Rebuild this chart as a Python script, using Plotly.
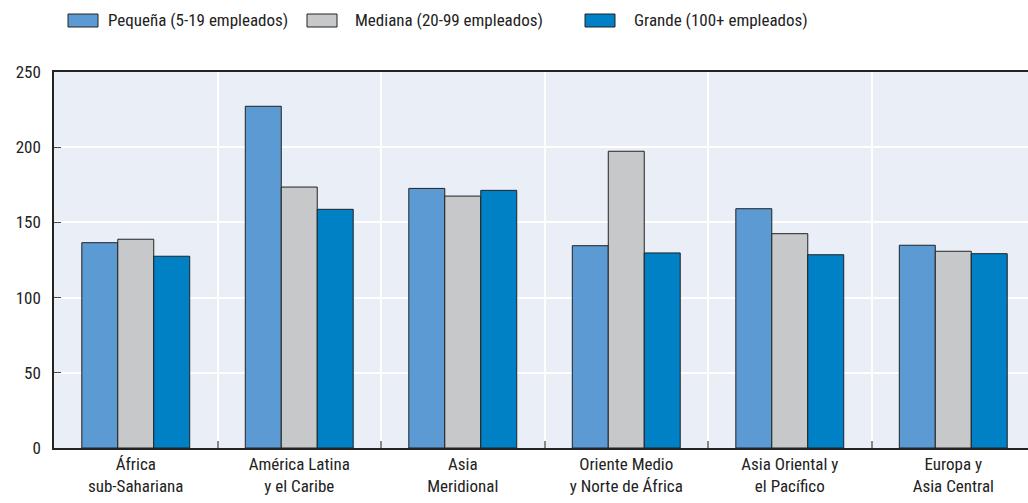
import plotly.graph_objects as go

categories = ["África<br>sub-Sahariana", "América Latina<br>y el Caribe", "Asia<br>Meridional",
              "Oriente Medio<br>y Norte de África", "Asia Oriental y<br>el Pacífico", "Europa y<br>Asia Central"]
series_names = ["Pequeña (5-19 empleados)", "Mediana (20-99 empleados)", "Grande (100+ empleados)"]
pequena = [136.5, 227.2, 172.6, 134.5, 159.1, 134.8]
mediana = [138.8, 173.5, 167.5, 197.3, 142.5, 130.8]
grande = [127.5, 158.7, 171.3, 129.7, 128.5, 129.2]
colors = ["#5b9ad3", "#c7c8ca", "#0080c5"]

FONT = "Roboto Condensed, Liberation Sans Narrow, sans-serif"
W, H = 1028, 503
ML, MR, MT, MB = 54, 0, 72, 55
PW, PH = W - ML - MR, H - MT - MB


def px(x):
    return (x - ML) / PW


def py(y):
    return (H - MB - y) / PH


fig = go.Figure()
for name, vals, c in zip(series_names, [pequena, mediana, grande], colors):
    fig.add_trace(go.Bar(x=list(range(len(categories))), y=vals, name=name,
                         marker=dict(color=c, line=dict(color="#222222", width=1)),
                         showlegend=False, hoverinfo="x+y"))

# custom legend (positions in pixels)
leg = [(68, 106), (307, 353), (585, 632)]
for (bx, tx), name, c in zip(leg, series_names, colors):
    fig.add_shape(type="rect", xref="paper", yref="paper",
                  x0=px(bx), x1=px(bx + 30), y0=py(27), y1=py(14),
                  fillcolor=c, line=dict(color="#222222", width=1))
    fig.add_annotation(xref="paper", yref="paper", x=px(tx), y=py(20.5),
                       text=name, showarrow=False, xanchor="left", yanchor="middle",
                       font=dict(family=FONT, size=17, color="#222222"))

fig.update_layout(
    width=W, height=H,
    margin=dict(l=ML, r=MR, t=MT, b=MB),
    barmode="group", bargap=0.34, bargroupgap=0,
    plot_bgcolor="#e9eef7", paper_bgcolor="white",
    font=dict(family=FONT, size=17, color="#222222"),
)
fig.update_xaxes(
    tickmode="array", tickvals=list(range(len(categories))), ticktext=categories,
    range=[-0.5, 5.457], showgrid=False,
    showline=True, linecolor="#222222", linewidth=1.5, mirror=True,
    ticks="", tickfont=dict(size=17, color="#222222"),
)
fig.update_xaxes(minor=dict(tickmode="array", tickvals=[0.5, 1.5, 2.5, 3.5, 4.5],
                            showgrid=True, gridcolor="white", gridwidth=1.5,
                            ticks="inside", ticklen=7, tickcolor="#888888", tickwidth=1.5))
fig.update_yaxes(
    range=[0, 250], tickvals=[0, 50, 100, 150, 200, 250],
    showgrid=True, gridcolor="white", gridwidth=1.5,
    showline=True, linecolor="#222222", linewidth=1.5,
    ticks="inside", ticklen=7, tickcolor="#444444", tickwidth=1,
    ticklabelstandoff=8,
    tickfont=dict(size=17, color="#222222"), zeroline=False,
)
fig.write_html("out.html", config={"displayModeBar": False},
               post_script="document.body.style.margin='0';")
